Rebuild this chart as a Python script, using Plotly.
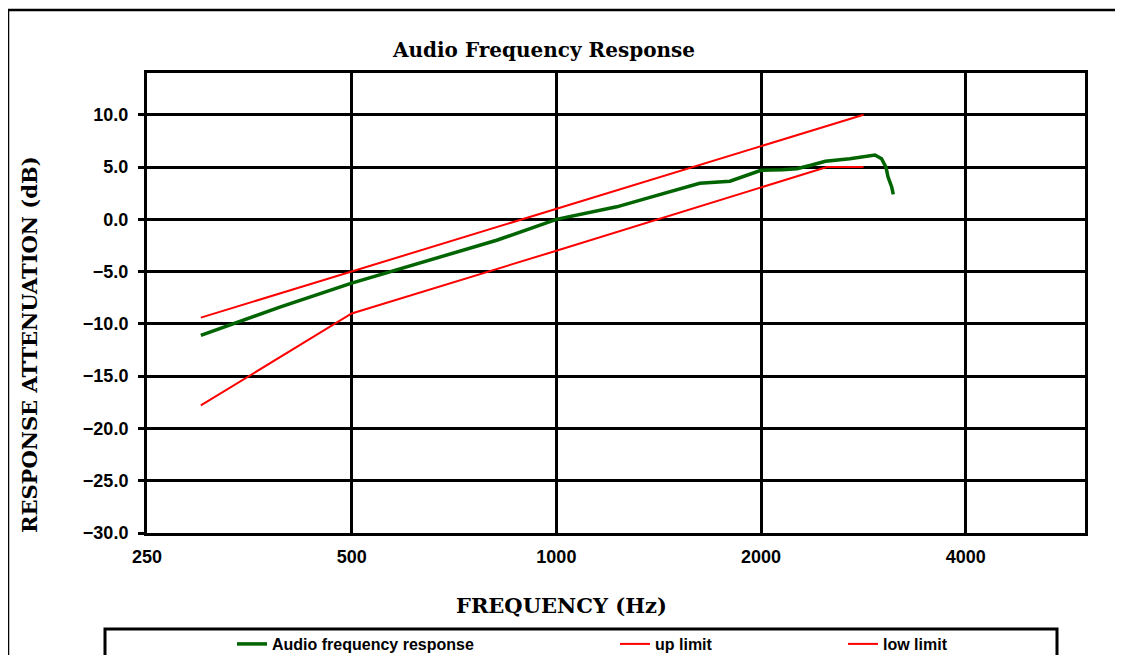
import plotly.graph_objects as go

# ---- data ----
resp_freq = [300, 331, 392, 500, 569, 690, 817, 1000, 1095, 1227, 1373, 1537, 1625,
             1800, 1882, 2000, 2153, 2257, 2360, 2487, 2702, 2868, 2942, 3008, 3053,
             3075, 3113, 3130]
resp_db = [-11.1, -10.1, -8.4, -6.1, -5.0, -3.35, -2.0, 0.0, 0.5, 1.2, 2.1, 3.0, 3.45,
           3.65, 4.1, 4.7, 4.75, 4.85, 5.15, 5.55, 5.8, 6.0, 6.15, 5.8, 5.0,
           4.05, 3.1, 2.4]

up_freq = [300, 500, 1000, 2000, 2830]
up_db = [-9.4, -5.0, 1.0, 7.0, 10.0]

low_freq = [300, 500, 1000, 2000, 2500, 2830]
low_db = [-17.8, -9.0, -3.0, 3.0, 5.0, 5.0]

x_ticks = [250, 500, 1000, 2000, 4000]
x_tick_text = ["250", "500", "1000", "2000", "4000"]
y_ticks = [-30, -25, -20, -15, -10, -5, 0, 5, 10]

# page body has an 8px margin; keep the figure inside the viewport
OFF = 8
W, H = 1123 - 2 * OFF, 663 - 2 * OFF
# plot area in screen pixels: x 147..1085, y 73..533
L, T = 147 - OFF, 73 - OFF
R, B = W - (1085 - OFF), H - (533 - OFF)
PW, PH = W - L - R, H - T - B


def px(xs):
    """screen x pixel -> paper coordinate"""
    return (xs - OFF - L) / PW


def py(ys):
    """screen y pixel -> paper coordinate"""
    return (H - B - (ys - OFF)) / PH


TICK_FONT = dict(family="Liberation Sans, Arial, sans-serif", size=18, color="black", weight="bold")
TITLE_FONT = dict(family="DejaVu Serif, serif", size=20, color="black", weight="bold")
AX_FONT = dict(family="DejaVu Serif, serif", size=21, color="black", weight="bold")
LEG_FONT = dict(family="Liberation Sans, Arial, sans-serif", size=16, color="black", weight="bold")

fig = go.Figure()
fig.add_trace(go.Scatter(x=resp_freq, y=resp_db, mode="lines", name="Audio frequency response",
                         line=dict(color="#006400", width=3.5), legend="legend", showlegend=True))
fig.add_trace(go.Scatter(x=up_freq, y=up_db, mode="lines", name="up limit",
                         line=dict(color="#FF0000", width=2), legend="legend2", showlegend=True))
fig.add_trace(go.Scatter(x=low_freq, y=low_db, mode="lines", name="low limit",
                         line=dict(color="#FF0000", width=2), legend="legend3", showlegend=True))

leg_common = dict(orientation="h", xanchor="left", yanchor="middle", y=py(644),
                  bgcolor="rgba(0,0,0,0)", borderwidth=0, font=LEG_FONT)

fig.update_layout(
    width=W, height=H,
    showlegend=True,
    margin=dict(l=L, r=R, t=T, b=B, autoexpand=False),
    paper_bgcolor="white", plot_bgcolor="white",
    title=dict(text="Audio Frequency Response", font=TITLE_FONT, xref="paper", x=px(544),
               xanchor="center", yref="container", y=1 - (50 - OFF) / H, yanchor="middle"),
    legend=dict(x=px(232), **leg_common),
    legend2=dict(x=px(615), **leg_common),
    legend3=dict(x=px(843), **leg_common),
    xaxis=dict(type="log", range=[2.39794, 3.7775], tickvals=x_ticks, ticktext=x_tick_text,
               showgrid=True, gridcolor="black", gridwidth=3,
               showline=True, linecolor="black", linewidth=3, mirror=True,
               ticks="", ticklabelstandoff=5, tickfont=TICK_FONT, zeroline=False),
    yaxis=dict(range=[-30, 14], tickvals=y_ticks, tickformat=".1f",
               showgrid=True, gridcolor="black", gridwidth=3,
               showline=True, linecolor="black", linewidth=3, mirror=True,
               ticks="outside", ticklen=6, tickwidth=3, tickcolor="black",
               ticklabelstandoff=6, tickfont=TICK_FONT, zeroline=False),
    shapes=[
        # outer chart frame
        dict(type="rect", xref="paper", yref="paper", x0=px(8), x1=px(1160), y0=py(720), y1=py(10),
             line=dict(color="black", width=2.5), fillcolor="rgba(0,0,0,0)", layer="below"),
        # legend box
        dict(type="rect", xref="paper", yref="paper", x0=px(105), x1=px(1057), y0=py(720), y1=py(629),
             line=dict(color="black", width=3), fillcolor="rgba(0,0,0,0)"),
    ],
    annotations=[
        dict(text="FREQUENCY (Hz)", xref="paper", yref="paper", x=px(561), y=py(605),
             xanchor="center", yanchor="middle", showarrow=False, font=AX_FONT),
        dict(text="RESPONSE ATTENUATION (dB)", xref="paper", yref="paper", x=px(30), y=py(345),
             xanchor="center", yanchor="middle", showarrow=False, textangle=-90, font=AX_FONT),
    ],
)

fig.write_html("out.html")
